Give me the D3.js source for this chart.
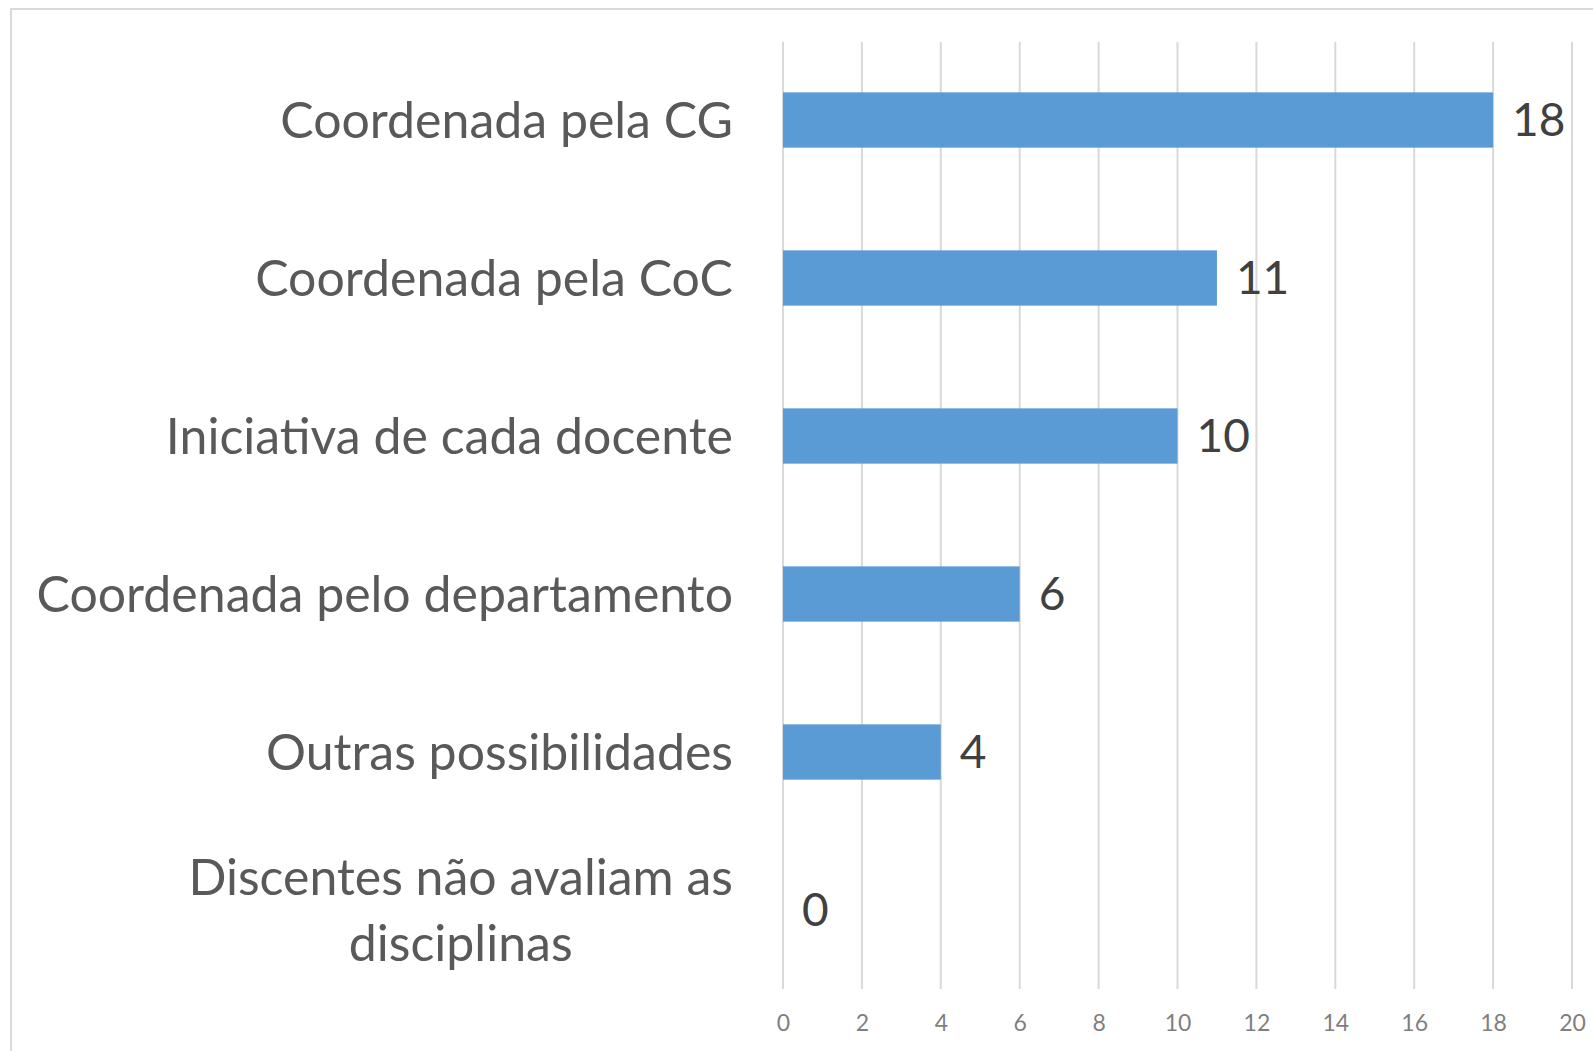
<!DOCTYPE html>
<html>
<head>
<meta charset="utf-8">
<script src="https://cdn.jsdelivr.net/npm/d3@7"></script>
<style>
  body { margin: 0; background: #fff; }
  svg { display: block; }
</style>
</head>
<body>
<svg id="chart" width="1593" height="1051"></svg>
<script>
// categories from top to bottom
let categories = [
  ['Coordenada pela CG'],
  ['Coordenada pela CoC'],
  ['Iniciativa de cada docente'],
  ['Coordenada pelo departamento'],
  ['Outras possibilidades'],
  ['Discentes não avaliam as', 'disciplinas']
]
let values = [18, 11, 10, 6, 4, 0]
let tickValues = [0, 2, 4, 6, 8, 10, 12, 14, 16, 18, 20]

let svg = d3.select('#chart')
let font = 'Lato, "Open Sans", sans-serif'

// chart border (runs off the right and bottom edge like the screenshot)
svg.append('rect')
  .attr('x', 11).attr('y', 9)
  .attr('width', 1620).attr('height', 1100)
  .attr('fill', 'none')
  .attr('stroke', '#d9d9d9')
  .attr('stroke-width', 2)

let x = d3.scaleLinear().domain([0, 20]).range([783, 1572])
let y = d3.scaleBand()
  .domain(d3.range(categories.length))
  .range([41, 989])
  .paddingInner(0.65)
  .paddingOuter(0.325)

// vertical gridlines
svg.append('g')
  .selectAll('line')
  .data(tickValues)
  .enter()
  .append('line')
  .attr('x1', (d) => x(d)).attr('x2', (d) => x(d))
  .attr('y1', 42).attr('y2', 989)
  .attr('stroke', '#d9d9d9')
  .attr('stroke-width', 2)

// bottom axis, labels only
let xAxis = d3.axisBottom(x).tickValues(tickValues).tickSize(0).tickPadding(0)
let axisG = svg.append('g')
  .attr('transform', 'translate(0,1015)')
  .call(xAxis)
axisG.select('.domain').remove()
axisG.selectAll('text')
  .attr('dy', '0.71em')
  .style('font-family', font)
  .style('font-size', '23px')
  .style('fill', '#7f7f7f')

// bars
svg.append('g')
  .selectAll('rect')
  .data(values)
  .enter()
  .append('rect')
  .attr('x', x(0))
  .attr('y', (d, i) => y(i))
  .attr('width', (d) => x(d) - x(0))
  .attr('height', y.bandwidth())
  .attr('fill', '#5b9bd5')

// value labels
svg.append('g')
  .selectAll('text')
  .data(values)
  .enter()
  .append('text')
  .attr('x', (d) => x(d) + 19)
  .attr('y', (d, i) => y(i) + y.bandwidth() / 2)
  .attr('dy', '0.35em')
  .style('font-family', font)
  .style('font-size', '46px')
  .style('fill', '#404040')
  .text((d) => d)

// category labels, multi-line ones centred inside a right-aligned block
let labelRight = 733
let lineH = 66
let catG = svg.append('g')
categories.forEach((lines, i) => {
  let cy = y(i) + y.bandwidth() / 2
  let texts = lines.map((line, k) => {
    return catG.append('text')
      .attr('y', cy + (k - (lines.length - 1) / 2) * lineH)
      .attr('dy', '0.35em')
      .style('font-family', font)
      .style('font-size', '50px')
      .style('fill', '#595959')
      .text(line)
  })
  let widths = texts.map((t) => t.node().getComputedTextLength())
  let blockW = d3.max(widths)
  texts.forEach((t) => {
    t.attr('x', labelRight - blockW / 2).attr('text-anchor', 'middle')
  })
})
</script>
</body>
</html>
